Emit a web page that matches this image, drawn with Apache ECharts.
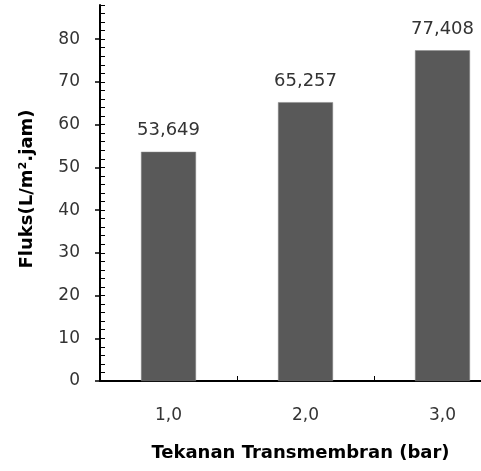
<!DOCTYPE html>
<html><head><meta charset="utf-8">
<script src="https://cdn.jsdelivr.net/npm/echarts@6/dist/echarts.min.js"></script>
<style>html,body{margin:0;padding:0;background:#fff}#c{width:481px;height:471px}</style>
</head><body><div id="c"></div>
<script>
const categories = ['1,0', '2,0', '3,0'];
const fluxValues = [53.649, 65.257, 77.408];
const yMajorTicks = [0, 10, 20, 30, 40, 50, 60, 70, 80];
const xTitle = 'Tekanan Transmembran (bar)';
const yTitle = 'Fluks(L/m².jam)';

const chart = echarts.init(document.getElementById('c'), null, {renderer: 'canvas'});
const font = 'DejaVu Sans, Verdana, sans-serif';
chart.setOption({
  animation: false,
  grid: {left: 100, right: -30, top: 5, bottom: 90, containLabel: false, outerBoundsMode: 'none'},
  xAxis: {
    type: 'category', data: categories,
    axisLine: {lineStyle: {color: '#000', width: 2}},
    axisTick: {show: true, inside: true, length: 5, alignWithLabel: false, lineStyle: {color: '#000', width: 1}},
    axisLabel: {margin: 26, fontFamily: font, fontSize: 17, color: '#333'},
    name: xTitle, nameLocation: 'middle', nameGap: 63,
    nameTextStyle: {fontFamily: font, fontSize: 18, fontWeight: 'bold', color: '#000', padding: [0, 10, 0, 0]}
  },
  yAxis: [{
    type: 'value', min: 0, max: 88, interval: 10,
    axisLine: {show: true, lineStyle: {color: '#000', width: 2}},
    axisTick: {show: true, inside: false, length: 5, customValues: yMajorTicks, lineStyle: {color: '#000', width: 1.5}},
    axisLabel: {margin: 20, fontFamily: font, fontSize: 17, color: '#333', customValues: yMajorTicks},
    splitLine: {show: false},
    name: yTitle, nameLocation: 'middle', nameGap: 64,
    nameTextStyle: {fontFamily: font, fontSize: 18, fontWeight: 'bold', color: '#000', padding: [0, 0, 0, 8]}
  }, {
    type: 'value', min: 0, max: 88, interval: 2, position: 'left', offset: 0,
    axisLine: {show: false},
    axisTick: {show: true, inside: true, length: 5, lineStyle: {color: '#000', width: 1}},
    axisLabel: {show: false},
    splitLine: {show: false}
  }],
  series: [{
    type: 'bar', data: fluxValues, barWidth: 55, yAxisIndex: 0,
    itemStyle: {color: '#595959', borderColor: '#8a8a8a', borderWidth: 0.5},
    label: {show: true, position: 'top', distance: 12, fontFamily: font, fontSize: 18, color: '#333',
      formatter: p => p.value.toFixed(3).replace('.', ',')}
  }]
});
</script></body></html>
